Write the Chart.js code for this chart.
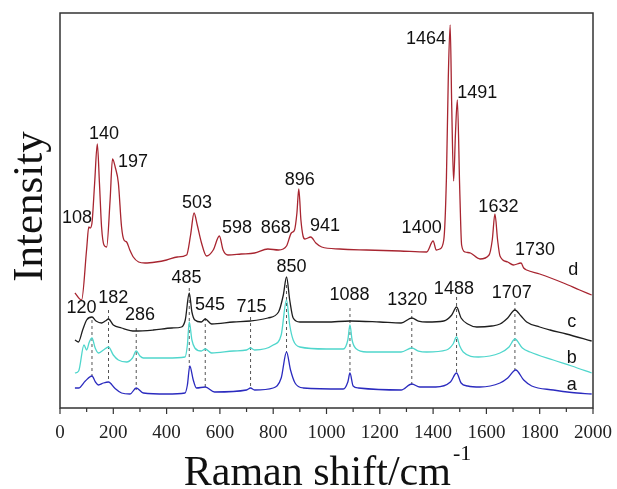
<!DOCTYPE html>
<html>
<head>
<meta charset="utf-8">
<script src="https://cdn.jsdelivr.net/npm/chart.js@4.4.0/dist/chart.umd.min.js"></script>
<style>
  html, body { margin: 0; padding: 0; background: #fff; }
  #wrap { width: 617px; height: 489px; }
</style>
</head>
<body>
<div id="wrap"><canvas id="raman"></canvas></div>
<script>
// =============================================
// Raman spectra a-d (offset intensity in a.u.)
// =============================================

const shiftD = [56, 81, 100, 108, 113, 120, 130, 140, 148, 156, 165, 175, 188, 197, 208, 219, 231, 240, 250, 262,
  275, 295, 319, 360, 400, 440, 475, 490, 503, 515, 530, 550, 575, 598, 612, 630, 680, 730, 780, 820,
  850, 868, 880, 889, 896, 904, 912, 919, 941, 960, 982, 1050, 1150, 1276, 1376, 1400, 1412, 1425, 1440, 1450,
  1457, 1464, 1470, 1477, 1484, 1491, 1500, 1507, 1520, 1540, 1576, 1610, 1622, 1632, 1642, 1651, 1680, 1701, 1730, 1740,
  1751, 1800, 1889, 1950, 1995];
const curveD = [115, 108, 159, 181, 180, 185, 225, 264, 225, 181, 163, 161, 208, 249, 240, 225, 181, 168, 166, 158,
  151, 146, 145, 146, 148, 151, 153, 173, 195, 183, 166, 152, 158, 172, 158, 153, 154, 155, 159, 158,
  162, 175, 178, 195, 219, 188, 172, 169, 171, 165, 161, 159, 158, 157, 156, 167, 158, 159, 168, 230,
  330, 383, 300, 227, 275, 308, 218, 163, 156, 155, 149, 153, 168, 194, 168, 152, 146, 143, 145, 140,
  138, 134, 125, 118, 113];

const shiftC = [56, 69, 85, 100, 120, 135, 156, 170, 182, 200, 231, 281, 350, 420, 456, 470, 485, 495, 506, 530,
  545, 569, 650, 715, 780, 820, 838, 850, 862, 875, 900, 1000, 1088, 1200, 1280, 1320, 1345, 1376, 1440, 1470,
  1488, 1505, 1530, 1564, 1620, 1651, 1680, 1707, 1730, 1751, 1800, 1839, 1900, 1995];
const curveC = [68, 66, 78, 88, 91, 87, 85, 87, 89, 83, 80, 77, 78, 80, 81, 88, 115, 96, 88, 86,
  89, 84, 86, 87, 90, 96, 113, 131, 108, 90, 86, 86, 87, 86, 85, 90, 87, 86, 87, 93,
  101, 90, 84, 81, 82, 84, 90, 98, 92, 86, 81, 78, 74, 67];

const shiftB = [56, 70, 90, 100, 110, 120, 132, 144, 163, 182, 200, 219, 250, 272, 286, 300, 313, 400, 469, 478,
  485, 495, 506, 530, 545, 569, 650, 700, 715, 730, 800, 830, 850, 862, 875, 900, 1000, 1063, 1080, 1088,
  1096, 1110, 1151, 1280, 1320, 1345, 1376, 1450, 1475, 1488, 1500, 1513, 1570, 1651, 1685, 1707, 1735, 1764, 1851, 1920,
  1995];
const curveB = [35, 37, 63, 58, 66, 70, 60, 55, 58, 61, 53, 48, 46, 50, 57, 52, 50, 50, 51, 63,
  86, 68, 60, 57, 59, 55, 57, 58, 60, 58, 63, 73, 108, 83, 68, 61, 59, 59, 68, 83,
  68, 59.5, 56, 56, 60, 57, 56, 58, 64, 71, 62, 56, 51, 55, 61, 69, 60, 56, 48, 42,
  35];

const shiftA = [56, 70, 95, 120, 133, 144, 163, 182, 205, 231, 263, 286, 313, 400, 469, 478, 487, 500, 512, 545,
  580, 700, 715, 730, 800, 830, 850, 865, 882, 913, 1063, 1080, 1088, 1100, 1120, 1280, 1320, 1350, 1410, 1465,
  1488, 1505, 1530, 1576, 1651, 1680, 1710, 1740, 1770, 1851, 1920, 1995];
const curveA = [20, 20, 27, 32, 26, 23, 25, 26, 20, 15, 14, 20, 15, 14, 15, 23, 42, 28, 20, 21,
  16, 18, 20, 18, 20, 30, 56, 38, 25, 20, 19, 26, 35, 22, 20, 18, 24, 21, 21, 26,
  35, 25, 22, 21, 25, 30, 38, 28, 22, 18, 15.5, 14];

// dashed guide lines under the a-c peaks
const dashShift  = [120, 182, 286, 485, 545, 715, 850, 1088, 1320, 1488, 1707];
const dashTop    = [88, 98, 80, 120, 90, 91, 123, 100, 98, 111, 106];
const dashBottom = [31, 26, 18, 41, 21, 21, 56, 35, 23, 35, 38];

// peak labels (text, x in cm-1, y in a.u.)
const peakText = ['108', '140', '197', '503', '598', '868', '896', '941', '1400', '1464', '1491', '1632', '1730', 'd',
  '120', '182', '286', '485', '545', '715', '850', '1088', '1320', '1488', '1707', 'c', 'b', 'a'];
const peakX = [64, 165, 274, 514, 664, 810, 900, 994, 1357, 1373, 1566, 1645, 1782, 1926,
  81, 200, 300, 475, 563, 719, 869, 1086, 1303, 1478, 1695, 1920, 1920, 1920];
const peakY = [190, 274, 246, 205, 180, 180, 228, 182, 180, 369, 315, 201, 158, 138,
  100, 110, 93, 130, 103, 101, 141, 113, 108, 119, 115, 86, 50, 23];

const xTicks = [0, 200, 400, 600, 800, 1000, 1200, 1400, 1600, 1800, 2000];

const toPoints = (xs, ys) => xs.map((x, i) => ({ x, y: ys[i] }));

const spectrum = (label, xs, ys, color) => ({
  label,
  data: toPoints(xs, ys),
  borderColor: color,
  borderWidth: 1.3,
  pointRadius: 0,
  cubicInterpolationMode: 'monotone',
  fill: false
});

const dashSets = dashShift.map((x, i) => ({
  label: 'guide' + x,
  data: [{ x, y: dashTop[i] }, { x, y: dashBottom[i] }],
  borderColor: '#555',
  borderWidth: 1,
  borderDash: [3, 3],
  pointRadius: 0,
  fill: false
}));

// frame, bottom ticks, peak labels and axis titles
const decorPlugin = {
  id: 'decor',
  afterDatasetsDraw(chart) {
    const { ctx, chartArea: a, scales } = chart;
    const xs = scales.x, ys = scales.y;
    ctx.save();

    ctx.strokeStyle = '#333';
    ctx.lineWidth = 1.5;
    ctx.strokeRect(a.left, a.top, a.right - a.left, a.bottom - a.top);

    ctx.lineWidth = 1.2;
    for (let v = 0; v <= 2000; v += 100) {
      const px = xs.getPixelForValue(v);
      ctx.beginPath();
      ctx.moveTo(px, a.bottom);
      ctx.lineTo(px, a.bottom + (v % 200 === 0 ? 6 : 4));
      ctx.stroke();
    }

    ctx.fillStyle = '#111';
    ctx.font = '18px "Liberation Sans", Arial, sans-serif';
    ctx.textAlign = 'center';
    ctx.textBaseline = 'middle';
    peakText.forEach((t, i) => {
      ctx.fillText(t, xs.getPixelForValue(peakX[i]), ys.getPixelForValue(peakY[i]));
    });

    // y title
    ctx.font = '43px "Liberation Serif", "Times New Roman", serif';
    ctx.textBaseline = 'alphabetic';
    ctx.save();
    ctx.translate(42, (a.top + a.bottom) / 2 - 4);
    ctx.rotate(-Math.PI / 2);
    ctx.fillText('Intensity', 0, 0);
    ctx.restore();

    // x title with superscript
    const main = 'Raman shift/cm', sup = '-1';
    ctx.font = '42px "Liberation Serif", "Times New Roman", serif';
    const w1 = ctx.measureText(main).width;
    ctx.font = '22px "Liberation Serif", "Times New Roman", serif';
    const w2 = ctx.measureText(sup).width;
    const x0 = (a.left + a.right) / 2 - (w1 + w2) / 2;
    ctx.textAlign = 'left';
    ctx.font = '42px "Liberation Serif", "Times New Roman", serif';
    ctx.fillText(main, x0, 485);
    ctx.font = '22px "Liberation Serif", "Times New Roman", serif';
    ctx.fillText(sup, x0 + w1 + 2, 460);

    ctx.restore();
  }
};

new Chart(document.getElementById('raman'), {
  type: 'line',
  data: {
    datasets: [
      spectrum('a', shiftA, curveA, '#2b2bbf'),
      spectrum('b', shiftB, curveB, '#4fd6cc'),
      spectrum('c', shiftC, curveC, '#1e1e1e'),
      spectrum('d', shiftD, curveD, '#a82530'),
      ...dashSets
    ]
  },
  options: {
    responsive: true,
    maintainAspectRatio: false,
    animation: false,
    layout: { padding: { left: 60, right: 24, top: 13, bottom: 0 } },
    plugins: { legend: { display: false }, tooltip: { enabled: false } },
    scales: {
      x: {
        type: 'linear',
        min: 0,
        max: 2000,
        afterFit: scale => {
          scale.height = 81;
          scale.paddingLeft = 0;
          scale.paddingRight = 0;
        },
        afterBuildTicks: scale => { scale.ticks = xTicks.map(v => ({ value: v })); },
        grid: { display: false, drawTicks: false },
        border: { display: false },
        ticks: {
          padding: 14,
          color: '#222',
          maxRotation: 0,
          autoSkip: false,
          callback: v => String(v),
          font: { family: '"Liberation Serif", "Times New Roman", serif', size: 19 }
        }
      },
      y: {
        display: false,
        min: 0,
        max: 395
      }
    }
  },
  plugins: [decorPlugin]
});
</script>
</body>
</html>
